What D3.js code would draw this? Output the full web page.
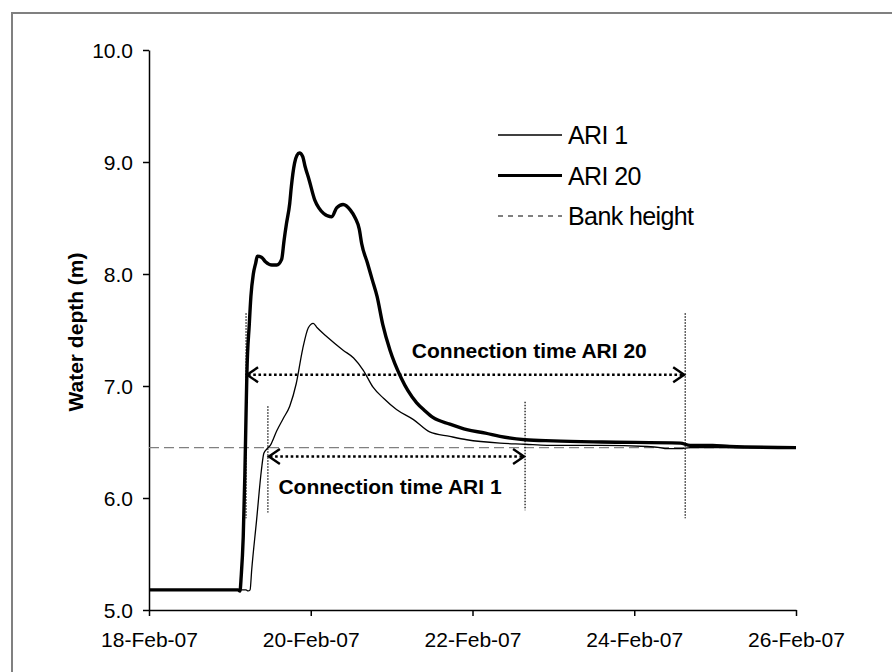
<!DOCTYPE html>
<html>
<head>
<meta charset="utf-8">
<script src="https://cdn.jsdelivr.net/npm/d3@7"></script>
<style>
  html, body { margin: 0; padding: 0; background: #fff; }
  svg { display: block; font-family: "Liberation Sans", Arial, sans-serif; }
</style>
</head>
<body>
<svg id="chart" width="892" height="672"></svg>
<script>
// Hydrograph: water depth (m) over time, days counted from 18-Feb-07 00:00
const startDate = new Date(2007, 1, 18);
const xTickDays = [0, 2, 4, 6, 8];
const yTicks = [5, 6, 7, 8, 9, 10];

const ari20Days = [0, 1.10, 1.125, 1.14, 1.165, 1.185, 1.20, 1.21, 1.24, 1.26, 1.29, 1.32, 1.34, 1.39, 1.44, 1.52, 1.58, 1.64, 1.67, 1.70, 1.74, 1.76, 1.80, 1.83, 1.86, 1.90, 1.93, 1.98, 2.05, 2.10, 2.16, 2.26, 2.32, 2.40, 2.49, 2.55, 2.60, 2.63, 2.70, 2.76, 2.82, 2.89, 2.98, 3.04, 3.12, 3.20, 3.31, 3.41, 3.51, 3.72, 3.93, 4.16, 4.34, 4.65, 5.0, 5.6, 6.57, 6.69, 6.97, 7.18, 8.0];
const ari20Depth = [5.18, 5.18, 5.17, 5.30, 5.65, 6.20, 6.75, 7.10, 7.55, 7.80, 8.00, 8.10, 8.16, 8.15, 8.11, 8.08, 8.08, 8.13, 8.30, 8.45, 8.63, 8.78, 8.99, 9.06, 9.08, 9.05, 8.96, 8.84, 8.66, 8.59, 8.54, 8.51, 8.59, 8.62, 8.57, 8.50, 8.40, 8.27, 8.10, 7.95, 7.80, 7.55, 7.32, 7.20, 7.07, 6.96, 6.85, 6.78, 6.72, 6.66, 6.61, 6.58, 6.55, 6.52, 6.51, 6.50, 6.49, 6.47, 6.47, 6.46, 6.45];

const ari1Days = [0, 1.20, 1.225, 1.25, 1.27, 1.33, 1.39, 1.42, 1.46, 1.50, 1.58, 1.66, 1.74, 1.82, 1.90, 1.97, 2.03, 2.08, 2.20, 2.40, 2.53, 2.65, 2.77, 2.90, 3.06, 3.27, 3.47, 3.72, 3.93, 4.34, 4.65, 4.92, 5.58, 6.16, 6.32, 6.40, 6.57, 6.69, 8.0];
const ari1Depth = [5.18, 5.18, 5.17, 5.18, 5.36, 5.80, 6.25, 6.40, 6.44, 6.47, 6.60, 6.71, 6.82, 7.02, 7.33, 7.52, 7.56, 7.52, 7.44, 7.32, 7.25, 7.14, 6.99, 6.89, 6.79, 6.70, 6.59, 6.55, 6.52, 6.49, 6.48, 6.47, 6.47, 6.46, 6.45, 6.44, 6.44, 6.45, 6.45];

const bankHeight = 6.45;

// Connection periods: [start day, end day] when the depth exceeds the bank
const connectionNames = ["Connection time ARI 20", "Connection time ARI 1"];
const connectionStart = [1.20, 1.47];
const connectionEnd = [6.63, 4.65];
const connectionArrowDepth = [7.10, 6.37];
const connectionLabelDepth = [7.32, 6.10];
const connectionLabelDay = [3.25, 1.60];
const markerTop = [[7.65, 7.65], [6.82, 6.86]];
const markerBottom = [[5.82, 5.82], [5.87, 5.89]];

const legendNames = ["ARI 1", "ARI 20", "Bank height"];

const svg = d3.select("#chart");
const toDate = d => new Date(startDate.getTime() + d * 864e5);

const x = d3.scaleTime().domain([toDate(0), toDate(8)]).range([149, 796]);
const y = d3.scaleLinear().domain([5, 10]).range([610, 50]);

// outer frame
svg.append("rect").attr("x", 12).attr("y", 13).attr("width", 900).attr("height", 700)
  .attr("fill", "#fff").attr("stroke", "#808080").attr("stroke-width", 2);

// axes
const fmt = d3.timeFormat("%d-%b-%y");
const gx = svg.append("g").attr("transform", `translate(0,${y(5)})`)
  .call(d3.axisBottom(x).tickValues(xTickDays.map(toDate)).tickFormat(fmt).tickSize(6).tickSizeOuter(0));
const gy = svg.append("g").attr("transform", `translate(${x(toDate(0))},0)`)
  .call(d3.axisLeft(y).tickValues(yTicks).tickFormat(d3.format(".1f")).tickSize(6).tickSizeOuter(0));
[gx, gy].forEach(g => {
  g.select(".domain").attr("stroke", "#000").attr("stroke-width", 1.5);
  g.selectAll(".tick line").attr("stroke", "#000").attr("stroke-width", 1.5);
  g.selectAll(".tick text").attr("fill", "#000").attr("font-size", 21)
    .attr("font-family", "'Liberation Sans', Arial, sans-serif");
});
gx.selectAll(".tick text").attr("dy", null).attr("y", 37);
gy.selectAll(".tick text").attr("x", -16).attr("dy", "0.36em");

svg.append("text")
  .attr("transform", `translate(${83},${332}) rotate(-90)`)
  .attr("text-anchor", "middle").attr("font-weight", "bold").attr("font-size", 21)
  .text("Water depth (m)");

// bank height reference
svg.append("line")
  .attr("x1", x(toDate(0))).attr("x2", x(toDate(8)))
  .attr("y1", y(bankHeight)).attr("y2", y(bankHeight))
  .attr("stroke", "#808080").attr("stroke-width", 1.3).attr("stroke-dasharray", "10,5");

// series
const line = d3.line().x(d => x(toDate(d[0]))).y(d => y(d[1])).curve(d3.curveMonotoneX);
svg.append("path").datum(d3.zip(ari1Days, ari1Depth))
  .attr("d", line).attr("fill", "none").attr("stroke", "#000").attr("stroke-width", 1.3);
svg.append("path").datum(d3.zip(ari20Days, ari20Depth))
  .attr("d", line).attr("fill", "none").attr("stroke", "#000").attr("stroke-width", 3.4)
  .attr("stroke-linejoin", "round");

// connection period markers and arrows
connectionNames.forEach((name, i) => {
  const days = [connectionStart[i], connectionEnd[i]];
  days.forEach((d, j) => {
    svg.append("line")
      .attr("x1", x(toDate(d))).attr("x2", x(toDate(d)))
      .attr("y1", y(markerTop[i][j])).attr("y2", y(markerBottom[i][j]))
      .attr("stroke", "#000").attr("stroke-width", 1.2).attr("stroke-dasharray", "1.5,1.5");
  });
  const x0 = x(toDate(days[0])), x1 = x(toDate(days[1])), ya = y(connectionArrowDepth[i]);
  svg.append("line").attr("x1", x0 + 2).attr("x2", x1 - 2).attr("y1", ya).attr("y2", ya)
    .attr("stroke", "#000").attr("stroke-width", 2.6).attr("stroke-dasharray", "2.6,2.6");
  svg.append("path").attr("d", `M${x0 + 12},${ya - 7.5}L${x0 + 1},${ya}L${x0 + 12},${ya + 7.5}`)
    .attr("fill", "none").attr("stroke", "#000").attr("stroke-width", 2.4);
  svg.append("path").attr("d", `M${x1 - 12},${ya - 7.5}L${x1 - 1},${ya}L${x1 - 12},${ya + 7.5}`)
    .attr("fill", "none").attr("stroke", "#000").attr("stroke-width", 2.4);
  svg.append("text")
    .attr("x", x(toDate(connectionLabelDay[i]))).attr("y", y(connectionLabelDepth[i]))
    .attr("dy", "0.36em").attr("font-weight", "bold").attr("font-size", 21)
    .text(name);
});

// legend
const legend = svg.append("g").attr("transform", "translate(498,135)");
legendNames.forEach((name, i) => {
  const g = legend.append("g").attr("transform", `translate(0,${i * 40.5})`);
  const l = g.append("line").attr("x1", 0).attr("x2", 64).attr("y1", 0).attr("y2", 0).attr("stroke", "#000");
  if (i === 0) l.attr("stroke-width", 1.3);
  if (i === 1) l.attr("stroke-width", 3.2);
  if (i === 2) l.attr("stroke-width", 1).attr("stroke-dasharray", "5,5");
  g.append("text").attr("x", 70).attr("dy", "0.36em").attr("font-size", 25)
    .attr("letter-spacing", -0.6).text(name);
});
</script>
</body>
</html>
